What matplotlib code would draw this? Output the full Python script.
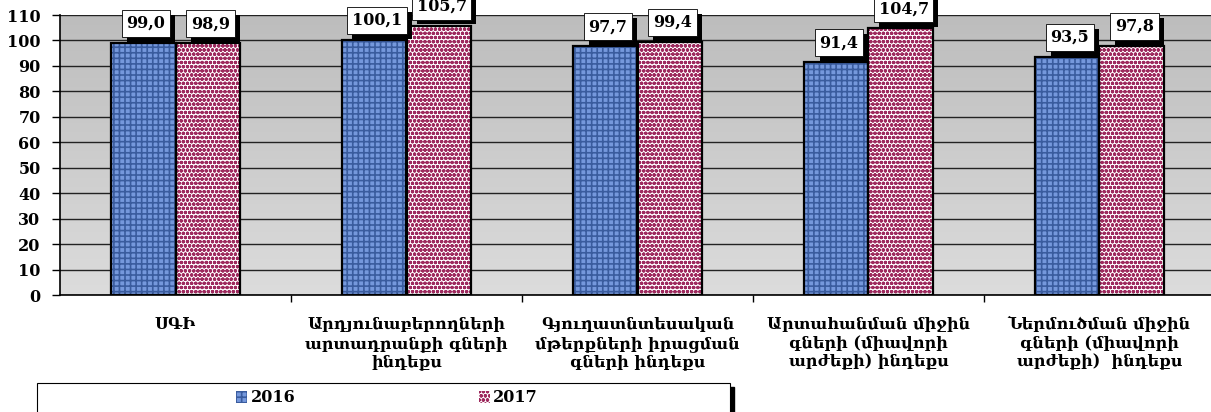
import matplotlib
matplotlib.use("Agg")
import matplotlib.pyplot as plt
import matplotlib.patheffects as pe
import numpy as np
from matplotlib.patches import Rectangle

categories = [
    "ՍԳԻ",
    "Արդյունաբերողների\nարտադրանքի գների\nինդեքս",
    "Գյուղատնտեսական\nմթերքների իրացման\nգների ինդեքս",
    "Արտահանման միջին\nգների (միավորի\nարժեքի) ինդեքս",
    "Ներմուծման միջին\nգների (միավորի\nարժեքի)  ինդեքս",
]
values_2016 = [99.0, 100.1, 97.7, 91.4, 93.5]
values_2017 = [98.9, 105.7, 99.4, 104.7, 97.8]
series_names = ["2016", "2017"]

FONT = ["DejaVu Serif", "Liberation Serif"]
plt.rcParams["font.family"] = FONT
plt.rcParams["hatch.linewidth"] = 1.2

W, H = 1211, 412
fig = plt.figure(figsize=(W / 100, H / 100), dpi=100)
ax = fig.add_axes([60 / W, 117 / H, 1 - 60 / W, 280 / H])

# gray gradient background
grad = np.linspace(0, 1, 256).reshape(-1, 1)
ax.imshow(grad, extent=[0, 1, 0, 1], transform=ax.transAxes, aspect="auto",
          cmap=matplotlib.colors.LinearSegmentedColormap.from_list("g", ["#dcdcdc", "#bdbdbd"]),
          origin="lower", zorder=0)

x = np.arange(len(categories))
bw = 0.28
b1 = ax.bar(x - bw / 2, values_2016, bw, color="#7598dc", hatch="+++",
            edgecolor="#3a5c9e", linewidth=0, zorder=3, label=series_names[0])
b2 = ax.bar(x + bw / 2, values_2017, bw, color="white", hatch="oooo",
            edgecolor="#9e2a5e", linewidth=0, zorder=3, label=series_names[1])
ax.bar(x - bw / 2, values_2016, bw, fill=False, edgecolor="black", linewidth=1.6, zorder=4)
ax.bar(x + bw / 2, values_2017, bw, fill=False, edgecolor="black", linewidth=1.6, zorder=4)

def fmt(v):
    return f"{v:.1f}".replace(".", ",")

for xs, vals in ((x - bw / 2, values_2016), (x + bw / 2, values_2017)):
    for xi, v in zip(xs, vals):
        t = ax.annotate(fmt(v), (xi, v), xytext=(2, 8), textcoords="offset points",
                        ha="center", va="bottom", fontsize=11.5, fontweight="bold",
                        bbox=dict(boxstyle="square,pad=0.3", fc="white", ec="black", lw=0.6),
                        zorder=6, annotation_clip=False)
        t.get_bbox_patch().set_path_effects([
            pe.SimplePatchShadow(offset=(3.5, -3.5), shadow_rgbFace="black", alpha=1.0),
            pe.Normal()])

ax.set_ylim(0, 110)
ax.set_xlim(-0.5, 4.5 - 4 / 231)
ax.set_yticks(range(0, 111, 10))
ax.yaxis.grid(True, color="#222222", linewidth=1)
ax.set_axisbelow(True)
for t in ax.get_yticklabels():
    t.set_fontweight("bold")
    t.set_fontsize(11.5)
ax.tick_params(axis="y", length=6, width=1, pad=8)

ax.set_xticks(x)
ax.set_xticklabels(categories, fontsize=11.5, fontweight="bold", linespacing=1.15)
ax.tick_params(axis="x", which="major", length=0, pad=15)
ax.set_xticks(x[:-1] + 0.5, minor=True)
ax.tick_params(axis="x", which="minor", length=5, width=1, direction="out")

for s in ("top", "right"):
    ax.spines[s].set_visible(False)
for s in ("left", "bottom"):
    ax.spines[s].set_color("black")
    ax.spines[s].set_linewidth(1.2)

# legend frame with shadow
fig.patches.append(Rectangle((41 / W, -0.05), 693 / W, 0.05 + 25 / H,
                             transform=fig.transFigure, fc="black", ec="black", zorder=1))
fig.patches.append(Rectangle((37 / W, -0.05), 693 / W, 0.05 + 29 / H,
                             transform=fig.transFigure, fc="white", ec="black", lw=0.8, zorder=2))
leg = fig.legend(handles=[b1, b2], loc="center", bbox_to_anchor=(387 / W, 14 / H),
                 ncol=2, frameon=False, handlelength=0.7, handleheight=0.7,
                 handletextpad=0.2, columnspacing=11.5, prop={"weight": "bold", "size": 11.5})
leg.set_zorder(3)

fig.savefig("out.png", dpi=100)
